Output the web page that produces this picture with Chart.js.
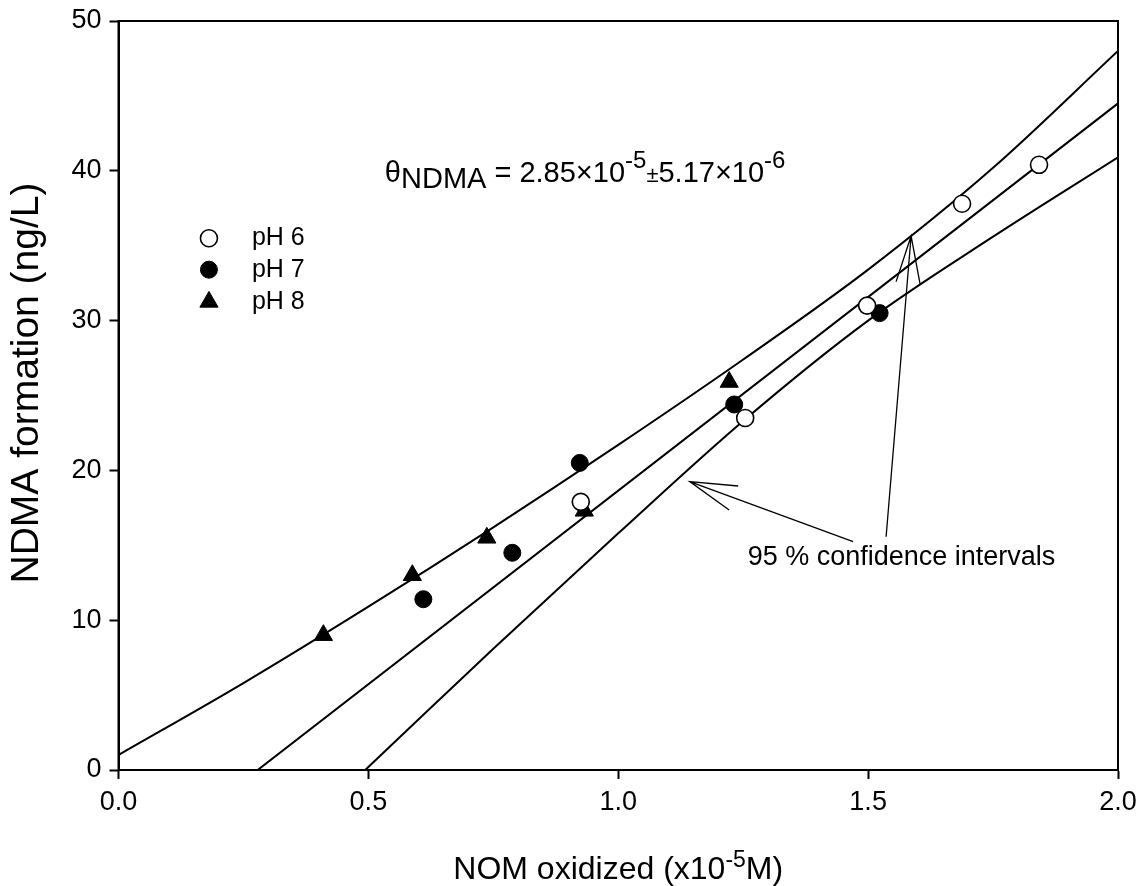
<!DOCTYPE html>
<html>
<head>
<meta charset="utf-8">
<script src="https://cdn.jsdelivr.net/npm/chart.js@4.4.1/dist/chart.umd.min.js"></script>
<style>
  html, body { margin: 0; padding: 0; background: #fff; }
  #wrap { width: 1143px; height: 886px; }
</style>
</head>
<body>
<div id="wrap"><canvas id="chart"></canvas></div>
<script>
const FONT = '"Liberation Sans", Arial, sans-serif';

// axis ticks
const xTicks = [0, 0.5, 1.0, 1.5, 2.0];
const yTicks = [0, 10, 20, 30, 40, 50];

// measured points, x = NOM oxidized (x10^-5 M), y = NDMA (ng/L)
const ph6X = [0.925, 1.254, 1.498, 1.688, 1.842];
const ph6Y = [17.9, 23.5, 31.0, 37.8, 40.4];
const ph7X = [0.610, 0.788, 0.923, 1.232, 1.523];
const ph7Y = [11.4, 14.5, 20.5, 24.4, 30.5];
const ph8X = [0.410, 0.588, 0.737, 0.932, 1.222];
const ph8Y = [9.0, 13.0, 15.5, 17.3, 25.9];

// regression line and 95 % confidence band
const fitX = [0.0, 2.0];
const fitY = [-7.2, 44.5];
const upperX = [0, 0.25, 0.5, 0.75, 1.0, 1.25, 1.5, 1.75, 2.0];
const upperY = [1.0, 5.8, 10.9, 16.2, 21.7, 27.4, 33.4, 40.2, 48.0];
const lowerX = [0.25, 0.5, 0.75, 1.0, 1.25, 1.5, 1.75, 2.0];
const lowerY = [-7.6, 0.2, 8.1, 15.8, 23.3, 30.0, 35.6, 40.9];

const seriesNames = ["pH 6", "pH 7", "pH 8"];

// annotation arrows in data units: [tail, head, barb1, barb2]
const arrowLow = [[1.470, 15.24], [1.143, 19.25], [1.240, 18.96], [1.222, 17.36]];
const arrowHigh = [[1.536, 15.57], [1.586, 35.65], [1.556, 32.6], [1.604, 32.44]];

const pts = (xs, ys) => xs.map((v, i) => ({ x: v, y: ys[i] }));

function markerStyle(i) {
  if (i === 0) return { pointStyle: "circle", radius: 8.5, bg: "#fff", bw: 1.6 };
  if (i === 1) return { pointStyle: "circle", radius: 8.5, bg: "#000", bw: 1 };
  return { pointStyle: "triangle", radius: 10.5, bg: "#000", bw: 1 };
}

const markerSets = [[ph6X, ph6Y], [ph7X, ph7Y], [ph8X, ph8Y]].map((s, i) => {
  const m = markerStyle(i);
  return {
    label: seriesNames[i],
    data: pts(s[0], s[1]),
    showLine: false,
    pointStyle: m.pointStyle,
    pointRadius: m.radius,
    pointBackgroundColor: m.bg,
    pointBorderColor: "#000",
    pointBorderWidth: m.bw,
    order: 0
  };
});

const lineSet = (xs, ys) => ({
  data: pts(xs, ys),
  showLine: true,
  borderColor: "#000",
  borderWidth: 2,
  pointRadius: 0,
  cubicInterpolationMode: "monotone",
  order: 1
});

function drawRuns(ctx, runs, x, base) {
  runs.forEach(p => {
    ctx.font = p[2] + "px " + FONT;
    ctx.fillText(p[0], x, base + p[1]);
    x += ctx.measureText(p[0]).width;
  });
}

function runsWidth(ctx, runs) {
  let w = 0;
  runs.forEach(p => { ctx.font = p[2] + "px " + FONT; w += ctx.measureText(p[0]).width; });
  return w;
}

/**
 * frame, legend, equation, arrows, axis titles
 */
const extras = {
  id: "extras",
  afterDatasetsDraw(chart) {
    const { ctx, chartArea: a, scales } = chart;
    const X = v => scales.x.getPixelForValue(v);
    const Y = v => scales.y.getPixelForValue(v);

    ctx.save();
    ctx.strokeStyle = "#000";
    ctx.fillStyle = "#000";
    ctx.lineWidth = 2;
    ctx.strokeRect(a.left, a.top, a.right - a.left, a.bottom - a.top);

    // arrows
    ctx.lineWidth = 1.3;
    [arrowLow, arrowHigh].forEach(ar => {
      ctx.beginPath();
      ctx.moveTo(X(ar[0][0]), Y(ar[0][1]));
      ctx.lineTo(X(ar[1][0]), Y(ar[1][1]));
      ctx.moveTo(X(ar[2][0]), Y(ar[2][1]));
      ctx.lineTo(X(ar[1][0]), Y(ar[1][1]));
      ctx.lineTo(X(ar[3][0]), Y(ar[3][1]));
      ctx.stroke();
    });

    ctx.textBaseline = "middle";
    ctx.textAlign = "left";
    ctx.font = "27px " + FONT;
    ctx.fillText("95 % confidence intervals", X(1.259), Y(14.15));

    // legend
    const rows = [35.5, 33.4, 31.25];
    seriesNames.forEach((name, i) => {
      const m = markerStyle(i);
      ctx.fillStyle = m.bg;
      ctx.strokeStyle = "#000";
      ctx.lineWidth = m.bw;
      Chart.helpers.drawPoint(ctx, { pointStyle: m.pointStyle, radius: m.radius, borderWidth: m.bw }, X(0.181), Y(rows[i]));
      ctx.fillStyle = "#000";
      ctx.font = "25px " + FONT;
      ctx.fillText(name, X(0.267), Y(rows[i]));
    });

    // theta equation
    ctx.textBaseline = "alphabetic";
    drawRuns(ctx, [
      ["\u03B8", 0, 29], ["NDMA", 6, 29], [" = 2.85\u00D710", 0, 29], ["-5", -14, 24],
      ["\u00B1", 0, 22], ["5.17\u00D710", 0, 29], ["-6", -14, 24]
    ], X(0.533), Y(39.25));

    // x axis title with superscript
    const xt = [["NOM oxidized (x10", 0, 32], ["-5", -12, 23], ["M)", 0, 32]];
    drawRuns(ctx, xt, (a.left + a.right) / 2 - runsWidth(ctx, xt) / 2, 879);

    // y axis title
    ctx.translate(27, 383);
    ctx.rotate(-Math.PI / 2);
    ctx.textAlign = "center";
    ctx.textBaseline = "middle";
    ctx.font = "39px " + FONT;
    ctx.fillText("NDMA formation (ng/L)", 0, 0);
    ctx.restore();
  }
};

new Chart(document.getElementById("chart"), {
  type: "scatter",
  data: {
    datasets: [
      ...markerSets,
      lineSet(fitX, fitY),
      lineSet(upperX, upperY),
      lineSet(lowerX, lowerY)
    ]
  },
  options: {
    responsive: true,
    maintainAspectRatio: false,
    animation: false,
    layout: { padding: { left: 0, top: 21, right: 25, bottom: 0 } },
    plugins: { legend: { display: false }, tooltip: { enabled: false } },
    scales: {
      x: {
        type: "linear",
        min: 0,
        max: 2,
        afterBuildTicks: s => { s.ticks = xTicks.map(v => ({ value: v })); },
        afterFit: s => { s.height = 116; s.paddingLeft = 0; s.paddingRight = 0; },
        grid: { drawOnChartArea: false, drawTicks: true, tickLength: 9, tickWidth: 2, color: "#000" },
        border: { display: true, color: "#000", width: 2 },
        ticks: {
          color: "#000",
          font: { family: FONT, size: 27 },
          padding: 7,
          callback: v => Number(v).toFixed(1)
        }
      },
      y: {
        type: "linear",
        min: 0,
        max: 50,
        afterBuildTicks: s => { s.ticks = yTicks.map(v => ({ value: v })); },
        afterFit: s => { s.width = 118.5; s.paddingTop = 0; s.paddingBottom = 0; },
        grid: { drawOnChartArea: false, drawTicks: true, tickLength: 9, tickWidth: 2, color: "#000" },
        border: { display: true, color: "#000", width: 2 },
        ticks: {
          color: "#000",
          font: { family: FONT, size: 27 },
          padding: 8
        }
      }
    }
  },
  plugins: [extras]
});
</script>
</body>
</html>
